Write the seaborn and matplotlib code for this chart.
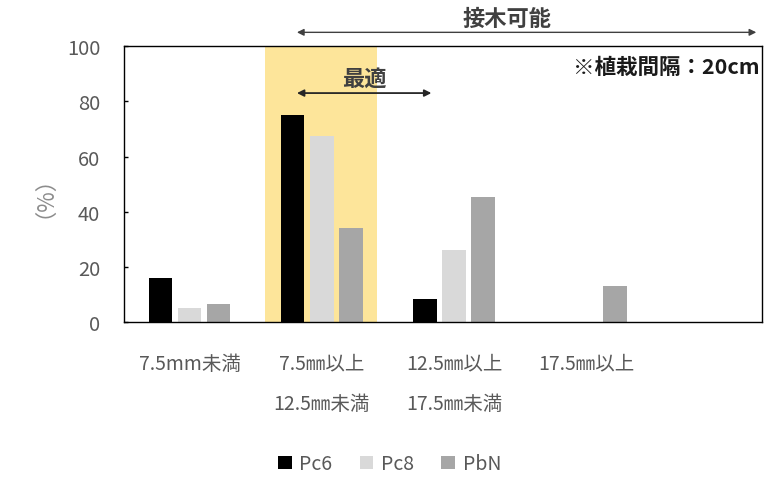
import pandas as pd
import seaborn as sns
import matplotlib.pyplot as plt
import matplotlib.transforms as mtransforms

sns.set_style("white")
plt.rcParams['font.family'] = ['Noto Sans CJK JP', 'DejaVu Sans']

# Data
categories = ["7.5mm未満", "7.5㎜以上\n12.5㎜未満", "12.5㎜以上\n17.5㎜未満", "17.5㎜以上"]
series = ["Pc6", "Pc8", "PbN"]
pc6 = [16, 75, 8.5, 0]
pc8 = [5.3, 67.5, 26, 0]
pbn = [6.5, 34, 45.3, 13.2]
colors = ["#000000", "#d9d9d9", "#a6a6a6"]

df = pd.DataFrame({
    "cat": categories * 3,
    "series": [s for s in series for _ in categories],
    "val": pc6 + pc8 + pbn,
})

fig = plt.figure(figsize=(7.64, 4.81), dpi=100)
ax = fig.add_axes([0.162, 0.328, 0.835, 0.574])

# optimum range highlight
ax.axvspan(0.57, 1.42, color="#fde59a", zorder=0, lw=0)

sns.barplot(data=df, x="cat", y="val", hue="series", palette=colors,
            width=0.66, gap=0.2, ax=ax, zorder=2, legend=True, linewidth=0)

ax.set_ylim(0, 100)
ax.set_xlim(-0.5, 4.33)
ax.set_yticks([0, 20, 40, 60, 80, 100])
ax.tick_params(axis="y", labelsize=14.5, labelcolor="#595959", direction="in",
               length=3, width=1, color="black", left=True, pad=17)
ax.tick_params(axis="x", labelsize=14, labelcolor="#595959", length=0, pad=22)
for lbl in ax.get_xticklabels():
    lbl.set_linespacing(2.2)
ax.set_xlabel("")
ax.set_ylabel("（%）", fontsize=16, color="#8c8c8c", labelpad=16)
for sp in ax.spines.values():
    sp.set_visible(True)
    sp.set_color("black")
    sp.set_linewidth(1.0)

# arrows
trans = mtransforms.blended_transform_factory(ax.transData, ax.transAxes)
ax.annotate("", xy=(4.31, 1.05), xytext=(0.79, 1.05), xycoords=trans, textcoords=trans,
            arrowprops=dict(arrowstyle="<|-|>", color="#404040", lw=1, mutation_scale=10),
            annotation_clip=False)
ax.text(2.4, 1.10, "接木可能", transform=trans, ha="center", va="center",
        fontsize=16, color="#404040", fontweight="bold")
ax.annotate("", xy=(1.85, 83), xytext=(0.79, 83),
            arrowprops=dict(arrowstyle="<|-|>", color="#262626", lw=1.3, mutation_scale=10),
            annotation_clip=False, zorder=3)
ax.text(1.32, 88.5, "最適", ha="center", va="center", fontsize=16,
        color="#404040", fontweight="bold", zorder=3)
ax.text(0.997, 0.925, "※植栽間隔：20cm", transform=ax.transAxes, ha="right",
        va="center", fontsize=15.5, fontweight="bold", color="#1a1a1a")

# legend
handles, labels = ax.get_legend_handles_labels()
ax.legend_.remove()
fig.legend(handles, labels, loc="center", bbox_to_anchor=(0.51, 0.034), ncol=3,
           frameon=False, fontsize=14, handlelength=0.7, handleheight=0.7,
           handletextpad=0.4, columnspacing=1.4, labelcolor="#595959")

fig.savefig("out.png", dpi=100)
